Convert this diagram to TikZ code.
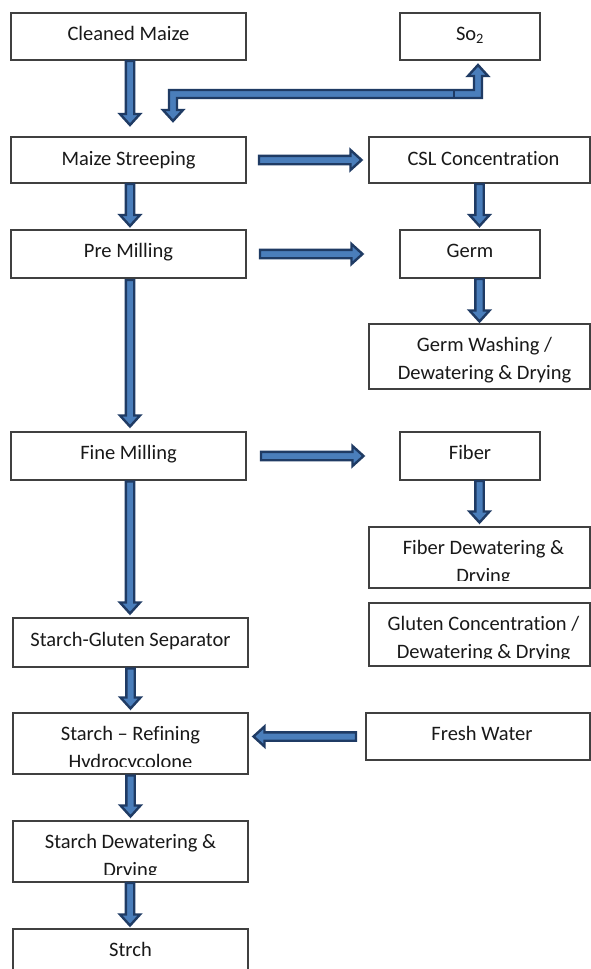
\documentclass[tikz,border=0pt]{standalone}
\usepackage{fontspec}
\setmainfont{Carlito}[Ligatures={NoCommon}]
\usetikzlibrary{calc}
\definecolor{arrowline}{HTML}{1F3B64}
\definecolor{arrowfill}{HTML}{4A7EBB}
\definecolor{boxline}{HTML}{404040}
\newcommand\twol[2]{\begin{tabular}[t]{@{}c@{}}#1\\#2\end{tabular}}
\tikzset{
  boxst/.style={draw=boxline, line width=1.2pt, fill=white, inner sep=0pt, outer sep=0pt, anchor=north west},
  txt/.style={anchor=base, inner sep=0pt, font=\fontsize{20.5}{28}\selectfont, text=black!90},
  barrow/.style={draw=arrowline, fill=arrowfill, line width=2.4pt, line join=miter, miter limit=4}
}
\newcommand\blockarrow[2]{%
  \coordinate (ba-a) at #1;
  \coordinate (ba-b) at #2;
  \coordinate (ba-h) at ($(ba-b)!11pt!(ba-a)$);
  \draw[barrow] ($(ba-a)!4.2pt!90:(ba-b)$) -- ($(ba-h)!4.2pt!90:(ba-b)$) -- ($(ba-h)!10pt!90:(ba-b)$)
    -- (ba-b) -- ($(ba-h)!10pt!-90:(ba-b)$) -- ($(ba-h)!4.2pt!-90:(ba-b)$) -- ($(ba-a)!4.2pt!-90:(ba-b)$) -- cycle;
}
\begin{document}
\begin{tikzpicture}[x=1pt,y=-1pt]
\useasboundingbox (0,0) rectangle (591,969);
\fill[white] (0,0) rectangle (591,969);

% boxes
\node[boxst, minimum width=235pt, minimum height=47pt] (cm) at (11,13) {};
\node[boxst, minimum width=140pt, minimum height=47pt] (so) at (400,13) {};
\node[boxst, minimum width=235pt, minimum height=46pt] (ms) at (11,137) {};
\node[boxst, minimum width=221pt, minimum height=46pt] (csl) at (369,137) {};
\node[boxst, minimum width=235pt, minimum height=48pt] (pm) at (11,230) {};
\node[boxst, minimum width=140pt, minimum height=48pt] (germ) at (400,230) {};
\node[boxst, minimum width=221pt, minimum height=65pt] (gw) at (369,324) {};
\node[boxst, minimum width=235pt, minimum height=48pt] (fm) at (11,432) {};
\node[boxst, minimum width=140pt, minimum height=48pt] (fib) at (400,432) {};
\node[boxst, minimum width=221pt, minimum height=61pt] (fd) at (369,527) {};
\node[boxst, minimum width=221pt, minimum height=63pt] (gc) at (369,603) {};
\node[boxst, minimum width=235pt, minimum height=49pt] (sg) at (13,618) {};
\node[boxst, minimum width=235pt, minimum height=61pt] (sr) at (13,713) {};
\node[boxst, minimum width=224pt, minimum height=47pt] (fw) at (366,713) {};
\node[boxst, minimum width=235pt, minimum height=61pt] (sd) at (13,821) {};
\node[boxst, minimum width=235pt, minimum height=50pt] (st) at (13,929) {};

% texts
\node[txt] (cm-t) at ($(cm.north)+(0,27)$) {Cleaned Maize};
\node[txt] (so-t) at ($(so.north)+(0,27)$) {So\textsubscript{2}};
\node[txt] (ms-t) at ($(ms.north)+(0,28)$) {Maize Streeping};
\node[txt] (csl-t) at ($(csl.north)+(4,28)$) {CSL Concentration};
\node[txt] (pm-t) at ($(pm.north)+(0,27)$) {Pre Milling};
\node[txt] (germ-t) at ($(germ.north)+(0,27)$) {Germ};
\node[txt] (gw-t) at ($(gw.north)+(5,27)$) {\twol{Germ Washing /}{Dewatering \& Drying}};
\node[txt] (fm-t) at ($(fm.north)+(0,27)$) {Fine Milling};
\node[txt] (fib-t) at ($(fib.north)+(0,27)$) {Fiber};
\begin{scope}
  \clip (fd.north west) rectangle ([yshift=8pt]fd.south east);
  \node[txt] (fd-t) at ($(fd.north)+(4,27)$) {\twol{Fiber Dewatering \&}{Drying}};
\end{scope}
\begin{scope}
  \clip (gc.north west) rectangle ([yshift=8pt]gc.south east);
  \node[txt] (gc-t) at ($(gc.north)+(4,27)$) {\twol{Gluten Concentration /}{Dewatering \& Drying}};
\end{scope}
\node[txt] (sg-t) at ($(sg.north)+(0,28)$) {Starch-Gluten Separator};
\begin{scope}
  \clip (sr.north west) rectangle ([yshift=8pt]sr.south east);
  \node[txt] (sr-t) at ($(sr.north)+(0,27)$) {\twol{Starch -- Refining}{Hydrocycolone}};
\end{scope}
\node[txt] (fw-t) at ($(fw.north)+(4,27)$) {Fresh Water};
\begin{scope}
  \clip (sd.north west) rectangle ([yshift=8pt]sd.south east);
  \node[txt] (sd-t) at ($(sd.north)+(0,27)$) {\twol{Starch Dewatering \&}{Drying}};
\end{scope}
\node[txt] (st-t) at ($(st.north)+(0,27)$) {Strch};

% straight block arrows
\blockarrow{($(cm.south)+(1.5,1)$)}{($(cm.south |- ms.north)+(1.5,-12)$)}
\blockarrow{($(ms.south)+(1.5,1)$)}{($(ms.south |- pm.north)+(1.5,-4)$)}
\blockarrow{($(pm.south)+(1.5,2)$)}{($(pm.south |- fm.north)+(1.5,-5.5)$)}
\blockarrow{($(fm.south)+(1.5,1.5)$)}{($(fm.south |- sg.north)+(1.5,-4.5)$)}
\blockarrow{($(sg.south)+(0,1.5)$)}{($(sg.south |- sr.north)+(0,-4.5)$)}
\blockarrow{($(sr.south)+(0,1.5)$)}{($(sr.south |- sd.north)+(0,-4.5)$)}
\blockarrow{($(sd.south)+(-0.5,1)$)}{($(sd.south |- st.north)+(-0.5,-3.5)$)}
\blockarrow{($(ms.east)+(13,0)$)}{($(ms.east -| csl.west)+(-7.5,0)$)}
\blockarrow{($(pm.east)+(14,0)$)}{($(pm.east -| germ.west)+(-37.5,0)$)}
\blockarrow{($(fm.east)+(15,0)$)}{($(fm.east -| fib.west)+(-36.5,0)$)}
\blockarrow{($(csl.south)+(0,1)$)}{($(csl.south |- germ.north)+(0,-4)$)}
\blockarrow{($(gw.north |- germ.south)+(0,1)$)}{($(gw.north)+(0,-2.5)$)}
\blockarrow{($(fd.north |- fib.south)+(0,1)$)}{($(fd.north)+(0,-4.5)$)}
\blockarrow{($(fw.west)+(-10,0)$)}{($(sr.east |- fw.west)+(5.5,0)$)}

% elbow double arrow between Maize Streeping and So2
\coordinate (eL) at ($(ms.north)+(44.5,-16)$);
\coordinate (eR) at ($(so.south)+(8,5)$);
\draw[barrow] (eL) -- ($(eL)+(-10,-11)$) -- ($(eL)+(-4,-11)$) -- ($(eL)+(-4,-31)$)
  -- ($(eR)+(-4,25)$) -- ($(eR)+(-4,11)$) -- ($(eR)+(-10,11)$) -- (eR)
  -- ($(eR)+(10,11)$) -- ($(eR)+(4,11)$) -- ($(eR)+(4,33)$)
  -- ($(eL)+(4,-23)$) -- ($(eL)+(4,-11)$) -- ($(eL)+(10,-11)$) -- cycle;
\draw[arrowline, line width=1.2pt] ($(eR)+(-24,25)$) -- ($(eR)+(-24,33)$);
\end{tikzpicture}
\end{document}
